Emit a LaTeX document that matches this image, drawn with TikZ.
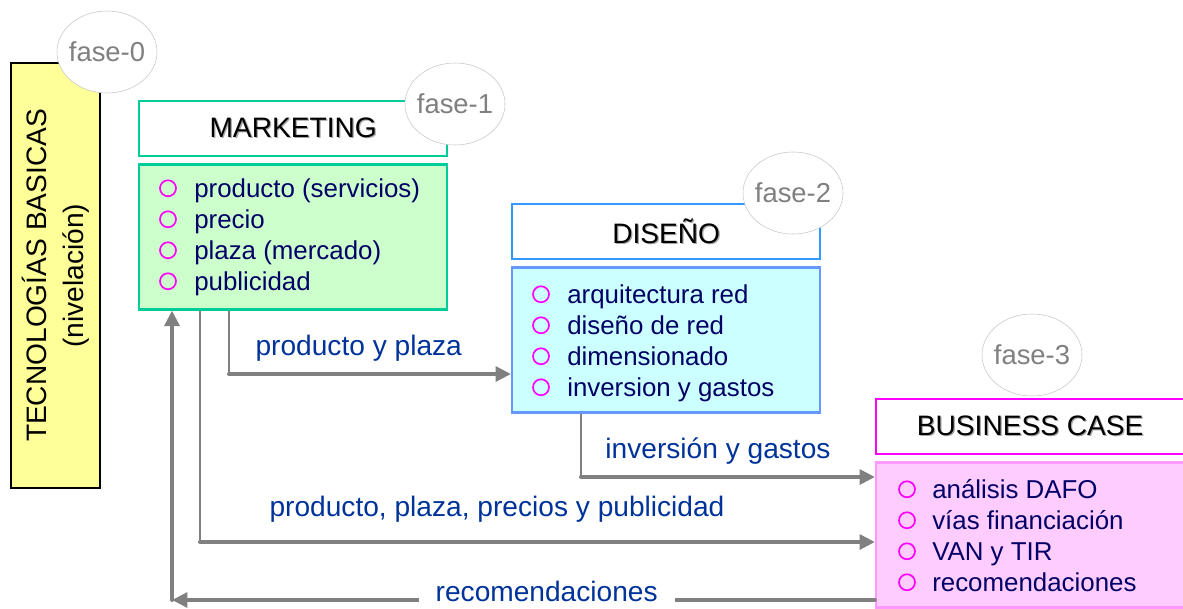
\documentclass[tikz,border=0pt]{standalone}
\usepackage{fontspec}
\setmainfont{Liberation Sans}
\usetikzlibrary{positioning,calc,shapes.geometric,arrows.meta}

\definecolor{tecfill}{HTML}{FFFF99}
\definecolor{mkline}{HTML}{00CC99}
\definecolor{mkfill}{HTML}{CCFFCC}
\definecolor{dshead}{HTML}{3399FF}
\definecolor{dsline}{HTML}{6699FF}
\definecolor{dsfill}{HTML}{CCFFFF}
\definecolor{bchead}{HTML}{FF00FF}
\definecolor{bcline}{HTML}{FF99FF}
\definecolor{bcfill}{HTML}{FFCCFF}
\definecolor{faseline}{HTML}{C8C8C8}
\definecolor{fasetext}{HTML}{808080}
\definecolor{bulletcol}{HTML}{FF00FF}
\definecolor{itemtext}{HTML}{000066}
\definecolor{labeltext}{HTML}{003399}
\definecolor{linkgray}{HTML}{808080}

% title text with a soft drop shadow
\newcommand{\shadowed}[1]{\makebox[0pt][l]{\hspace{0.9pt}\raisebox{-0.9pt}{\color{black!35}#1}}#1}

\begin{document}
\begin{tikzpicture}[x=0.025cm, y=-0.025cm, node distance=0.15cm]
	% Configurable lengths
	\def\boxWidth{7.7cm}
	\def\headHeight{1.375cm}
	\def\bodyHeight{3.625cm}
	\def\lineStep{31}

	% Styles
	\tikzstyle{head}=[draw, rectangle, fill=white, line width=1.6pt, minimum width=\boxWidth, minimum height=\headHeight, anchor=north west, font={\fontsize{20}{24}\selectfont}]
	\tikzstyle{body}=[draw, rectangle, line width=1.6pt, minimum width=\boxWidth, minimum height=\bodyHeight]
	\tikzstyle{fase}=[draw=faseline, ellipse, fill=white, text=fasetext, minimum width=2.5cm, minimum height=2.05cm, inner xsep=-3pt, font={\fontsize{19.5}{23}\selectfont}]
	\tikzstyle{bullet}=[draw=bulletcol, circle, line width=1.2pt, minimum size=0.4cm, inner sep=0pt]
	\tikzstyle{entry}=[anchor=base west, text=itemtext, inner sep=0pt, font={\fontsize{18.4}{22}\selectfont}]
	\tikzstyle{link}=[draw=linkgray, line width=1pt]
	\tikzstyle{flow}=[draw=linkgray, line width=2.8pt, line cap=round, -{Triangle[length=11pt, width=10.5pt]}]
	\tikzstyle{flowlabel}=[text=labeltext, font={\fontsize{20}{24}\selectfont}]

	\useasboundingbox (0,0) rectangle (1183,608);

	% Phase 0
	\node[draw, fill=tecfill, line width=1.6pt, rotate=90, minimum width=10.625cm, minimum height=2.225cm, align=center, font={\fontsize{20}{26}\selectfont}] (tec) at (55.5,275.5) {TECNOLOGÍAS BASICAS\\(nivelación)};

	% Boxes
	\node[head, draw=mkline] (mkhead) at (138,100) {\shadowed{MARKETING}};
	\node[body, draw=mkline, fill=mkfill, below=of mkhead] (mkbody) {};

	\node[head, draw=dshead] (dshead) at (511,203) {\shadowed{DISEÑO}};
	\node[body, draw=dsline, fill=dsfill, below=of dshead] (dsbody) {};

	\node[head, draw=bchead] (bchead) at (875,398) {\shadowed{BUSINESS CASE}};
	\node[body, draw=bcline, fill=bcfill, below=of bchead] (bcbody) {};

	% Lists
	\foreach \entryText [count=\i] in {producto (servicios), precio, plaza (mercado), publicidad} {
		\node[bullet] (mkb\i) at ($(mkbody.north west)+(30,{25+\lineStep*(\i-1)})$) {};
		\node[entry] (mke\i) at ($(mkbody.north west)+(56,{34+\lineStep*(\i-1)})$) {\entryText};
	}
	\foreach \entryText [count=\i] in {arquitectura red, diseño de red, dimensionado, inversion y gastos} {
		\node[bullet] (dsb\i) at ($(dsbody.north west)+(30,{28+\lineStep*(\i-1)})$) {};
		\node[entry] (dse\i) at ($(dsbody.north west)+(56,{37+\lineStep*(\i-1)})$) {\entryText};
	}
	\foreach \entryText [count=\i] in {análisis DAFO, vías financiación, VAN y TIR, recomendaciones} {
		\node[bullet] (bcb\i) at ($(bcbody.north west)+(32,{28+\lineStep*(\i-1)})$) {};
		\node[entry] (bce\i) at ($(bcbody.north west)+(57,{37+\lineStep*(\i-1)})$) {\entryText};
	}

	% Phase tags
	\node[fase] (fase0) at (107,52) {fase-0};
	\node[fase] (fase1) at (455,104) {fase-1};
	\node[fase] (fase2) at (793,193) {fase-2};
	\node[fase] (fase3) at (1032,355) {fase-3};

	% Flows
	\coordinate (c1) at (229,374);
	\draw[link] (c1 |- mkbody.south) -- (c1);
	\draw[flow] (c1) -- node[flowlabel, above=4pt, pos=0.46] {producto y plaza} (c1 -| dsbody.west);

	\coordinate (c2) at (581,477);
	\draw[link] (c2 |- dsbody.south) -- (c2);
	\draw[flow] (c2) -- node[flowlabel, above=4pt, pos=0.466] {inversión y gastos} (c2 -| bcbody.west);

	\coordinate (c3) at (200,542);
	\draw[link] (c3 |- mkbody.south) -- (c3);
	\draw[flow] (c3) -- node[flowlabel, above=9pt, pos=0.44] {producto, plaza, precios y publicidad} (c3 -| bcbody.west);

	% Feedback
	\coordinate (c4) at (172,600);
	\draw[flow] (c4 -| bcbody.west) -- node[flowlabel, fill=white, inner xsep=12pt, inner ysep=0pt, yshift=6pt, pos=0.467] {recomendaciones} (c4);
	\draw[flow] (c4) -- (c4 |- mkbody.south);
\end{tikzpicture}
\end{document}
